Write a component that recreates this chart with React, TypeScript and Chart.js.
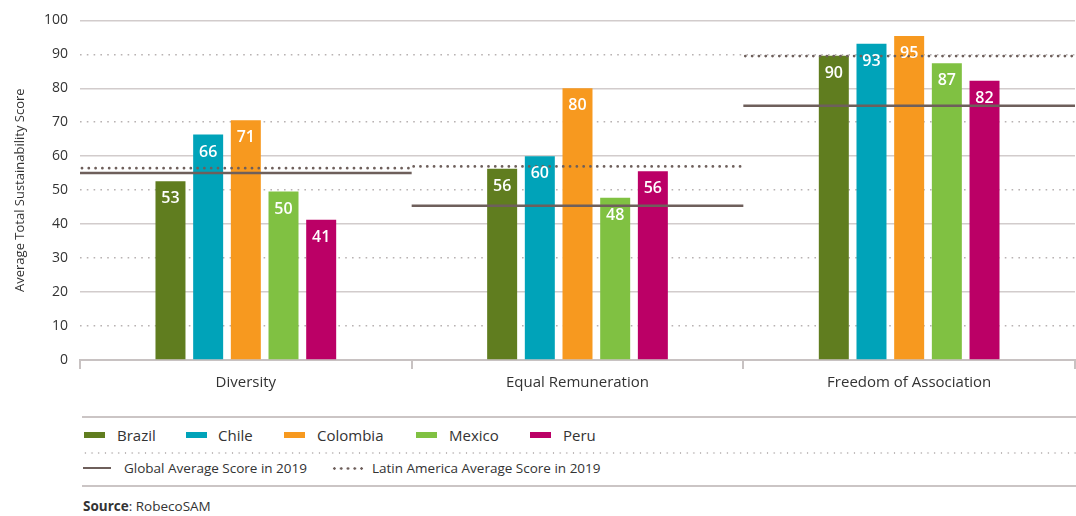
import React, { useEffect, useRef } from "react";
import { Chart, registerables } from "chart.js";

Chart.register(...registerables);

const categories = ["Diversity", "Equal Remuneration", "Freedom of Association"];
const countries = ["Brazil", "Chile", "Colombia", "Mexico", "Peru"];
const brazil = [52.6, 56.3, 89.6];
const chile = [66.4, 60.0, 93.1];
const colombia = [70.6, 80.0, 95.4];
const mexico = [49.6, 47.8, 87.4];
const peru = [41.3, 55.6, 82.2];
const globalAvg = [55.1, 45.4, 74.9];
const latamAvg = [56.5, 57.0, 89.5];
const yTicks = [0, 10, 20, 30, 40, 50, 60, 70, 80, 90, 100];

const seriesValues = [brazil, chile, colombia, mexico, peru];
const colors = ["#607d1f", "#00a3b9", "#f7991f", "#80c142", "#bb0066"];
const refColor = "#6e5f5b";
const FONT = "'Open Sans', 'Noto Sans', sans-serif";

const refLinesPlugin = {
  id: "refLines",
  afterDatasetsDraw(chart: any) {
    const { ctx, chartArea, scales } = chart;
    const y = scales.y;
    const n = categories.length;
    const w = (chartArea.right - chartArea.left) / n;
    ctx.save();
    for (let i = 0; i < n; i++) {
      const x0 = chartArea.left + i * w;
      const x1 = x0 + w;
      // global average - solid
      const gy = y.getPixelForValue(globalAvg[i]);
      ctx.beginPath();
      ctx.setLineDash([]);
      ctx.lineCap = "butt";
      ctx.lineWidth = 2.5;
      ctx.strokeStyle = refColor;
      ctx.moveTo(x0, gy);
      ctx.lineTo(x1, gy);
      ctx.stroke();
      // latin america - dotted
      const ly = y.getPixelForValue(latamAvg[i]);
      ctx.beginPath();
      ctx.setLineDash([0, 6.8]);
      ctx.lineCap = "round";
      ctx.lineWidth = 2.8;
      ctx.strokeStyle = refColor;
      ctx.moveTo(x0 + 2, ly);
      ctx.lineTo(x1, ly);
      ctx.stroke();
    }
    ctx.restore();
    // bar value labels
    ctx.save();
    ctx.fillStyle = "#ffffff";
    ctx.font = `600 16px ${FONT}`;
    ctx.textAlign = "center";
    ctx.textBaseline = "middle";
    chart.data.datasets.forEach((ds: any, di: number) => {
      const meta = chart.getDatasetMeta(di);
      meta.data.forEach((bar: any, i: number) => {
        const v = ds.data[i];
        ctx.fillText(String(Math.round(v)), bar.x, bar.y + 17.5);
      });
    });
    ctx.restore();
  },
};

function ChartCanvas() {
  const ref = useRef<HTMLCanvasElement | null>(null);
  useEffect(() => {
    if (!ref.current) return;
    const chart = new Chart(ref.current, {
      type: "bar",
      data: {
        labels: categories,
        datasets: countries.map((c, i) => ({
          label: c,
          data: seriesValues[i],
          backgroundColor: colors[i],
          borderWidth: 0,
          barPercentage: 0.796,
          categoryPercentage: 0.568,
        })),
      },
      options: {
        animation: false,
        responsive: true,
        maintainAspectRatio: false,
        layout: { padding: { top: 18, right: 1, left: 0, bottom: 0 } },
        plugins: {
          legend: { display: false },
          tooltip: { enabled: false },
        },
        scales: {
          x: {
            afterFit: (s: any) => {
              s.height = 40;
            },
            grid: {
              display: true,
              drawOnChartArea: false,
              drawTicks: true,
              offset: true,
              tickLength: 9,
              color: "#c8c2c2",
              lineWidth: 2,
            },
            border: { display: true, color: "#c8c2c2", width: 2 },
            ticks: {
              color: "#333333",
              font: { family: FONT, size: 15 },
              padding: 5,
            },
          },
          y: {
            min: 0,
            max: 100,
            afterFit: (s: any) => {
              s.width = 80;
            },
            afterBuildTicks: (s: any) => {
              s.ticks = yTicks.map((v) => ({ value: v }));
            },
            grid: {
              drawTicks: false,
              color: (ctx: any) => {
                const v = ctx.tick ? ctx.tick.value : 0;
                if (v === 0) return "rgba(0,0,0,0)";
                return v % 20 === 0 ? "#d2cccc" : "#b8b2b2";
              },
              lineWidth: (ctx: any) => {
                const v = ctx.tick ? ctx.tick.value : 0;
                return v % 20 === 0 ? 1.5 : 1.6;
              },
            },
            border: {
              display: false,
              dash: (ctx: any) => {
                const v = ctx.tick ? ctx.tick.value : 0;
                return v % 20 === 0 ? [] : [1.6, 5.2];
              },
            },
            ticks: {
              color: "#333333",
              font: { family: FONT, size: 14 },
              padding: 12,
            },
            title: {
              display: true,
              text: "Average Total Sustainability Score",
              color: "#333333",
              font: { family: FONT, size: 13 },
              padding: { top: 12, bottom: 0 },
            },
          },
        },
      },
      plugins: [refLinesPlugin],
    });
    return () => chart.destroy();
  }, []);
  return <canvas ref={ref} />;
}

const legendItems = [
  { swatch: 84, text: 117 },
  { swatch: 186, text: 218 },
  { swatch: 284, text: 317 },
  { swatch: 416, text: 449 },
  { swatch: 530, text: 563 },
];

export default function App() {
  const textStyle: React.CSSProperties = {
    position: "absolute",
    fontFamily: FONT,
    color: "#333333",
    whiteSpace: "nowrap",
    lineHeight: "20px",
  };
  return (
    <div style={{ position: "absolute", left: 0, top: 0, width: 1076, height: 516, background: "#fff" }}>
      <div style={{ position: "absolute", left: 0, top: 0, width: 1076, height: 400 }}>
        <ChartCanvas />
      </div>
      {/* top rule */}
      <div style={{ position: "absolute", left: 82, top: 416, width: 994, height: 2, background: "#cbc5c5" }} />
      {countries.map((c, i) => (
        <React.Fragment key={c}>
          <div
            style={{
              position: "absolute",
              left: legendItems[i].swatch,
              top: 432,
              width: 21,
              height: 6,
              background: colors[i],
            }}
          />
          <div style={{ ...textStyle, left: legendItems[i].text, top: 425, fontSize: 15 }}>{c}</div>
        </React.Fragment>
      ))}
      {/* dotted separator */}
      <div
        style={{
          position: "absolute",
          left: 82,
          top: 452,
          width: 994,
          height: 2,
          backgroundImage: "radial-gradient(circle, #bdb8b8 0.8px, rgba(255,255,255,0) 1.1px)",
          backgroundSize: "6.7px 2px",
          backgroundRepeat: "repeat-x",
        }}
      />
      <div style={{ position: "absolute", left: 83, top: 467, width: 28, height: 2, background: refColor }} />
      <div style={{ ...textStyle, left: 124, top: 458, fontSize: 13.5 }}>Global Average Score in 2019</div>
      <div
        style={{
          position: "absolute",
          left: 331,
          top: 466.5,
          width: 33,
          height: 3,
          backgroundImage: `radial-gradient(circle, ${refColor} 1.1px, rgba(255,255,255,0) 1.5px)`,
          backgroundSize: "6.8px 3px",
          backgroundRepeat: "repeat-x",
        }}
      />
      <div style={{ ...textStyle, left: 372, top: 458, fontSize: 13.5 }}>Latin America Average Score in 2019</div>
      {/* bottom rule */}
      <div style={{ position: "absolute", left: 82, top: 485, width: 994, height: 2, background: "#cbc5c5" }} />
      <div style={{ ...textStyle, left: 83, top: 496, fontSize: 13.5 }}>
        <b>Source</b>: RobecoSAM
      </div>
    </div>
  );
}
